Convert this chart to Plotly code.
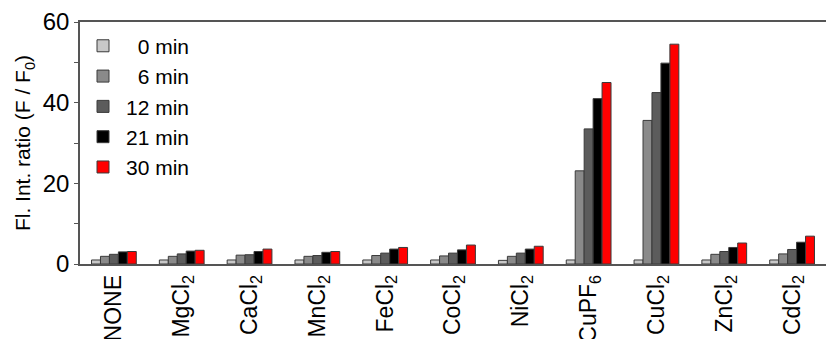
import plotly.graph_objects as go

categories = ["NONE", "MgCl<sub>2</sub>", "CaCl<sub>2</sub>", "MnCl<sub>2</sub>", "FeCl<sub>2</sub>",
              "CoCl<sub>2</sub>", "NiCl<sub>2</sub>", "CuPF<sub>6</sub>", "CuCl<sub>2</sub>",
              "ZnCl<sub>2</sub>", "CdCl<sub>2</sub>"]
series_names = ["\u00a0\u00a00 min", "\u00a0\u00a06 min", "12 min", "21 min", "30 min"]
t0 = [1.0, 1.0, 1.0, 1.0, 1.0, 1.0, 0.9, 1.0, 1.0, 1.0, 1.0]
t6 = [1.9, 1.9, 2.2, 1.9, 2.1, 2.0, 1.9, 23.1, 35.6, 2.4, 2.5]
t12 = [2.4, 2.5, 2.3, 2.1, 2.7, 2.7, 2.7, 33.5, 42.5, 3.1, 3.6]
t21 = [3.0, 3.2, 3.1, 2.9, 3.7, 3.5, 3.7, 41.0, 49.8, 4.1, 5.4]
t30 = [3.1, 3.4, 3.7, 3.1, 4.1, 4.7, 4.4, 45.0, 54.5, 5.2, 6.9]
series_values = [t0, t6, t12, t21, t30]
colors = ["#c8c8c8", "#8a8a8a", "#5c5c5c", "#000000", "#ff0000"]

fig = go.Figure()
for name, vals, col in zip(series_names, series_values, colors):
    fig.add_trace(go.Bar(
        x=categories, y=vals, name=name,
        marker=dict(color=col, line=dict(color="#3a3a3a", width=1)),
    ))

font_family = "Liberation Sans, Arial, sans-serif"
fig.update_layout(
    width=826, height=339,
    margin=dict(l=80, r=0, t=22, b=75),
    paper_bgcolor="white", plot_bgcolor="white",
    barmode="group", bargap=0.34, bargroupgap=0,
    font=dict(family=font_family, color="#000000"),
    showlegend=True,
    legend=dict(x=0.0, y=0.985, xanchor="left", yanchor="top",
                font=dict(size=21), bgcolor="rgba(0,0,0,0)",
                tracegroupgap=0, itemwidth=36),
    xaxis=dict(
        range=[-0.5, 10.5], showline=True, linecolor="#555555", linewidth=1.5,
        mirror=True, ticks="", tickangle=-90, tickfont=dict(size=23),
        showgrid=False, automargin=False,
    ),
    yaxis=dict(
        range=[0, 60], tickvals=[0, 20, 40, 60], showline=True,
        linecolor="#555555", linewidth=1.5, ticks="outside", ticklen=4,
        tickcolor="#555555", tickfont=dict(size=24), showgrid=False,
        minor=dict(tickvals=[10, 30, 50], ticks="outside", ticklen=4, tickcolor="#555555"),
        title=dict(text="Fl. Int. ratio (F / F<sub>0</sub>)", font=dict(size=21), standoff=6),
        zeroline=False, automargin=False,
    ),
)

fig.write_html(
    "out.html",
    config={"displayModeBar": False},
    post_script="document.body.style.margin='0';document.body.style.overflow='hidden';",
)
